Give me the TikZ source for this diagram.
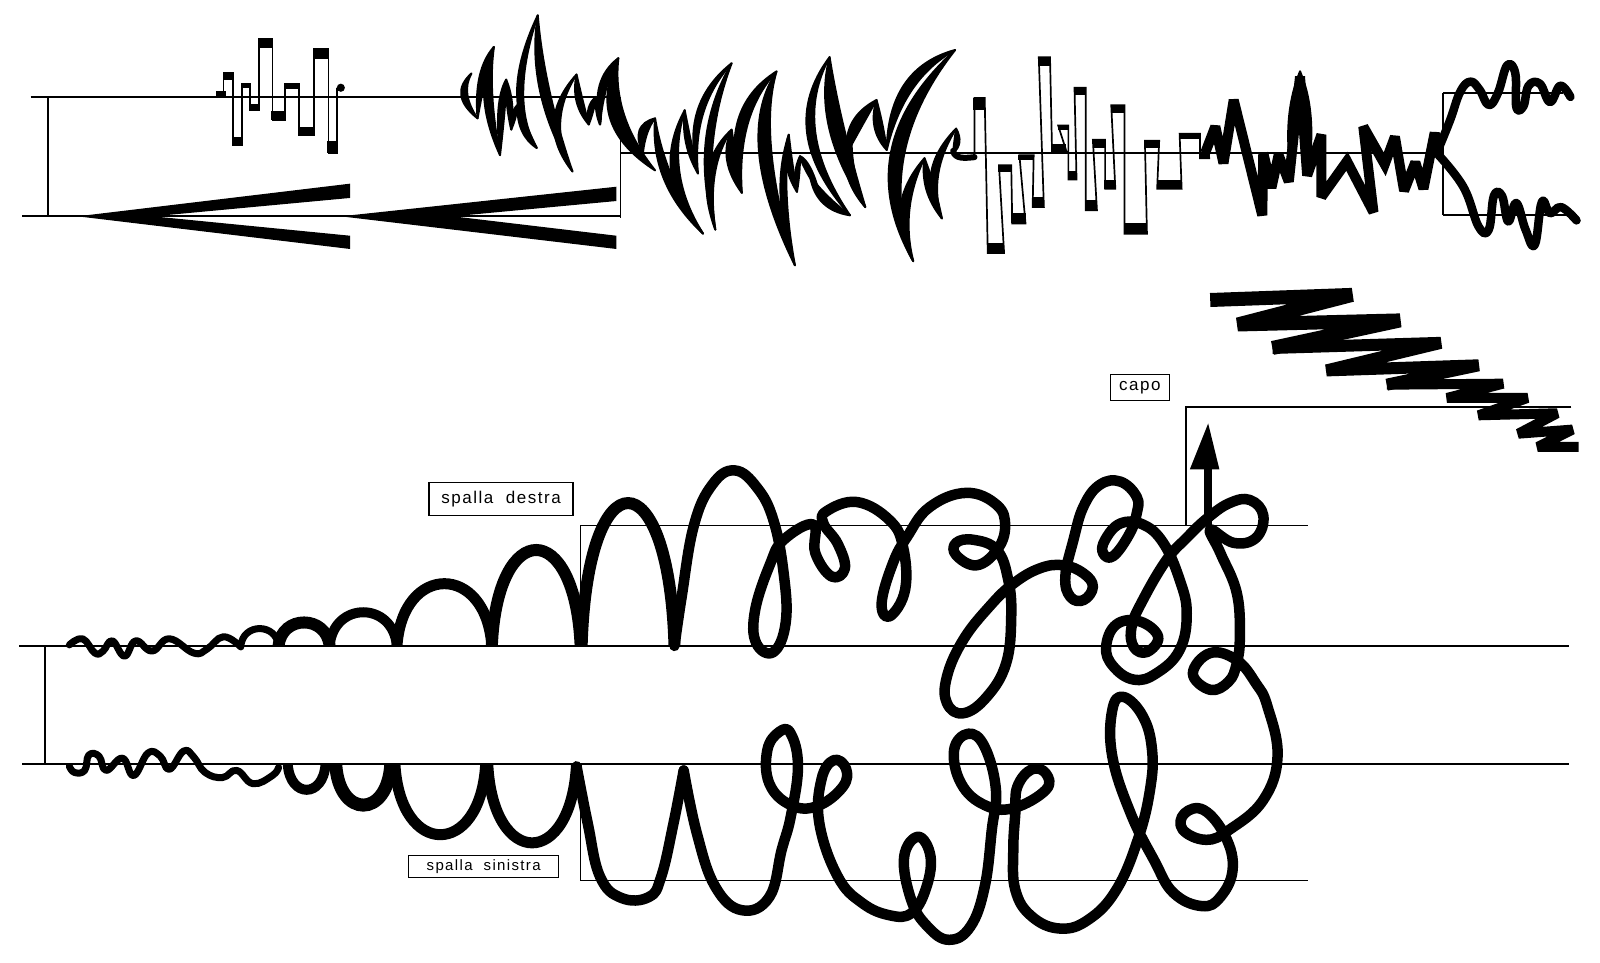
\documentclass[tikz,border=0pt]{standalone}
\usepackage{fontspec}
\setmainfont{Liberation Sans}
\newcommand\lensf[7]{%
\pgfmathsetmacro\ldx{#5-#1}\pgfmathsetmacro\ldy{#6-#2}%
\pgfmathsetmacro\lenlen{max(veclen(\ldx,\ldy),1)}%
\pgfmathsetmacro\ox{#7*\ldy/\lenlen}\pgfmathsetmacro\oy{-#7*\ldx/\lenlen}%
\filldraw[line width=2pt,line join=round] (#1,#2) .. controls ({#1+2/3*(#3+\ox-#1)},{#2+2/3*(#4+\oy-#2)}) and ({#5+2/3*(#3+\ox-#5)},{#6+2/3*(#4+\oy-#6)}) .. (#5,#6)
 .. controls ({#5+2/3*(#3-\ox-#5)},{#6+2/3*(#4-\oy-#6)}) and ({#1+2/3*(#3-\ox-#1)},{#2+2/3*(#4-\oy-#2)}) .. cycle;}
\newcommand\archup[4]{\draw[line width=#4] (#1,633) .. controls ({#1+0.06*(#2-#1)},{633+(#3-633)/0.75}) and ({#2-0.06*(#2-#1)},{633+(#3-633)/0.75}) .. (#2,633);}
\newcommand\archdn[4]{\draw[line width=#4] (#1,749) .. controls ({#1+0.06*(#2-#1)},{749+(#3-749)/0.75}) and ({#2-0.06*(#2-#1)},{749+(#3-749)/0.75}) .. (#2,749);}
\tikzset{
 staff/.style={line width=1.7pt},
 thinv/.style={line width=1.3pt},
 wave/.style={line width=7pt,line cap=round,line join=round},
 scroll/.style={line width=10.5pt,line cap=round,line join=round},
 zig/.style={line width=10pt,line join=miter,miter limit=3},
 zigf/.style={line join=bevel},
 sq/.style={line width=1.7pt,line join=miter},
 labelbox/.style={draw,line width=1.2pt,inner sep=0pt,font=\fontsize{17}{17}\selectfont\addfontfeatures{LetterSpace=9}}
}
\begin{document}
\begin{tikzpicture}[x=1.0204pt,y=-1.0204pt]
\useasboundingbox (0,0) rectangle (1568,943);
% ---- thin staff lines, top system
\draw[staff] (30,95) -- (608,95);
\draw[staff] (22,212) -- (608,212);
\draw[thinv] (47,95) -- (47,212);
\draw[thinv] (608,95) -- (608,214);
\draw[staff] (608,150) -- (1414,150);
\draw[thinv] (1414,91) -- (1414,211);
\draw[staff] (1414,91) -- (1532,91);
\draw[staff] (1414,211) -- (1545,211);
% hairpins
\fill (76,212) -- (343,180) -- (343,194) -- (150,212) -- (343,231) -- (343,244) -- cycle;
\fill (334,212) -- (604,183) -- (604,197) -- (444,212) -- (604,231) -- (604,244) -- cycle;
% square wave A
\draw[sq] (212,93) -- (219,93) -- (219,71) -- (228,71) -- (228,142) -- (237,142) -- (237,82) -- (245,82) -- (245,108) -- (254,108) -- (254,38) -- (267,38) -- (267,118) -- (279,118) -- (279,82) -- (293,82) -- (293,132) -- (308,132) -- (308,48) -- (322,48) -- (322,150) -- (330,150) -- (330,86);
\foreach \a/\b/\c/\d in {212/221/89/94, 219/228/71/78, 227/237/134/142, 236/245/82/86, 244/255/102/108, 254/267/38/47, 266/279/109/118, 279/293/82/87, 292/308/124/132, 308/322/48/58, 320/330/138/150}
  \fill (\a,\c) rectangle (\b,\d);
\fill (334,86) circle (4);
% spikes B
\lensf{462}{72}{445}{92}{468}{116}{6}
\lensf{468}{116}{470}{70}{484}{46}{6}
\lensf{484}{46}{470}{90}{490}{152}{8}
\lensf{490}{152}{490}{100}{496}{78}{6}
\lensf{496}{78}{500}{100}{501}{127}{5}
\lensf{501}{127}{503}{112}{507}{103}{4}
\lensf{507}{103}{512}{130}{526}{145}{6}
\lensf{526}{145}{493}{100}{527}{15}{6}
\lensf{527}{15}{524}{88}{561}{168}{9}
\lensf{561}{168}{529}{120}{565}{73}{6}
\lensf{565}{73}{565}{100}{577}{122}{6}
\lensf{577}{122}{578}{105}{584}{95}{5}
\lensf{584}{95}{587}{110}{588}{122}{4}
\lensf{588}{122}{585}{80}{606}{57}{7}
% spikes C
\lensf{606}{57}{586}{118}{642}{167}{14}
\lensf{630}{150}{625}{125}{642}{116}{8}
\lensf{642}{116}{644}{177}{689}{229}{8}
\lensf{689}{229}{644}{172}{671}{108}{8}
\lensf{671}{108}{672}{140}{684}{170}{5}
\lensf{684}{170}{672}{104}{717}{62}{6}
\lensf{717}{62}{681}{137}{701}{225}{7}
\lensf{701}{225}{685}{164}{717}{127}{7}
\lensf{717}{127}{712}{155}{727}{189}{9}
\lensf{727}{189}{712}{110}{761}{70}{10}
\lensf{761}{70}{730}{135}{779}{260}{12}
\lensf{779}{260}{760}{190}{773}{132}{6}
\lensf{773}{132}{770}{160}{781}{188}{6}
\lensf{781}{188}{780}{170}{784}{153}{4}
\lensf{784}{153}{790}{160}{803}{189}{5}
\lensf{794}{173}{805}{200}{833}{211}{8}
\lensf{833}{211}{767}{127}{813}{56}{8}
\lensf{813}{56}{809}{121}{848}{203}{14}
\lensf{848}{203}{824}{165}{835}{124}{8}
\lensf{830}{150}{835}{120}{859}{98}{10}
\lensf{859}{98}{858}{125}{869}{147}{8}
\lensf{869}{147}{878}{72}{936}{49}{9}
\lensf{936}{49}{844}{147}{895}{256}{13}
\lensf{895}{256}{873}{204}{906}{155}{9}
\lensf{906}{155}{909}{185}{923}{214}{8}
\lensf{923}{214}{902}{170}{937}{126}{7}
\lensf{937}{126}{940}{140}{934}{150}{5}
\draw[line width=6pt,line cap=round] (934,148) .. controls (936,156) and (945,155) .. (955,154);
% square wave D
\draw[sq] (955,154) -- (955,96) -- (965,96) -- (968,248) -- (984,248) -- (979,162) -- (991,162) -- (992,219) -- (1005,219) -- (999,152) -- (1013,152) -- (1012,203) -- (1023,203) -- (1018,56) -- (1029,56) -- (1031,148) -- (1045,148) -- (1037,123) -- (1047,123) -- (1047,176) -- (1055,176) -- (1053,86) -- (1064,86) -- (1064,206) -- (1075,206) -- (1071,137) -- (1083,137) -- (1083,185) -- (1093,185) -- (1089,103) -- (1102,103) -- (1102,229) -- (1124,229) -- (1122,138) -- (1136,138) -- (1134,185) -- (1158,185) -- (1156,131) -- (1176,131) -- (1176,155) -- (1186,155);
\foreach \a/\b/\c/\d in {954/965/96/108, 967/984/238/248, 978/991/162/169, 991/1005/209/219, 998/1013/152/157, 1011/1023/193/203, 1017/1029/56/65, 1031/1045/141/148, 1037/1047/123/127, 1047/1055/168/176, 1053/1064/86/93, 1063/1075/196/206, 1071/1083/137/145, 1082/1093/176/185, 1089/1102/103/111, 1102/1124/219/229, 1122/1136/138/145, 1134/1158/176/185, 1156/1176/131/136, 1175/1186/149/155}
  \fill (\a,\c) rectangle (\b,\d);
% zigzag E
\draw[zig] (1181,150) -- (1191,124) -- (1199,160) -- (1209,98) -- (1237,211) -- (1238,150) -- (1246,184) -- (1253,152) -- (1263,178) -- (1274,75) -- (1281,172) -- (1295,132) -- (1295,193) -- (1320,158) -- (1346,208) -- (1336,124) -- (1357,161) -- (1367,134) -- (1376,187) -- (1387,159) -- (1395,185) -- (1406,130) -- (1408,150);
\lensf{1264}{160}{1266}{110}{1274}{70}{8}
\lensf{1274}{70}{1283}{110}{1282}{170}{8}
% end waves
\draw[wave,line width=8.5pt] plot[smooth,tension=0.7] coordinates {(1408,150) (1421,118) (1431,90) (1441,80) (1450,88) (1459,103) (1468,91) (1477,64) (1485,72) (1486,105) (1493,104) (1498,84) (1509,82) (1519,100) (1529,84) (1539,95)};
\draw[wave,line width=8.5pt] plot[smooth,tension=0.7] coordinates {(1408,150) (1434,183) (1449,222) (1459,225) (1464,192) (1472,192) (1478,217) (1486,199) (1495,225) (1504,240) (1511,198) (1519,209) (1530,203) (1545,216)};
% zigzag F
\draw[zig,zigf,line width=14pt] (1186,294) -- (1325,289) -- (1213,318) -- (1372,314) -- (1247,341);
\draw[zig,zigf,line width=12pt] (1247,341) -- (1412,336) -- (1300,363) -- (1449,358) -- (1359,377);
\draw[zig,zigf,line width=10pt] (1359,377) -- (1473,376) -- (1418,390) -- (1497,390) -- (1449,407) -- (1526,405) -- (1488,425) -- (1541,421) -- (1507,438) -- (1547,438);
% lower system lines
\draw[staff] (1540,399) -- (1162,399) -- (1162,515);
\draw[staff] (569,633) -- (569,515) -- (1282,515);
\draw[staff] (19,633) -- (1538,633);
\draw[staff] (22,749) -- (1538,749);
\draw[thinv] (44,633) -- (44,749);
\draw[staff] (569,749) -- (569,863) -- (1282,863);
% labels
\node[labelbox,minimum width=144pt,minimum height=33pt] (destra) at (491,489) {spalla\ \ destra};
\node[labelbox,minimum width=150pt,minimum height=22pt,font=\fontsize{15}{15}\selectfont\addfontfeatures{LetterSpace=9}] (sinistra) at (474,849.5) {spalla\ \ sinistra};
\node[labelbox,minimum width=59pt,minimum height=26pt] (capo) at (1117,380) {capo};
% arrow
\draw[line width=8pt] (1184,515) -- (1184,455);
\fill (1184,415) -- (1195,460) -- (1166,460) -- cycle;
% small waves
\draw[wave] plot[smooth,tension=0.75] coordinates {(68,632) (81,626) (93,640) (101,638) (110,628) (122,643) (133,628) (149,638) (166,626) (190,640) (203,636) (219,624) (236,634)};
\draw[wave] plot[smooth,tension=0.75] coordinates {(68,751) (73,757) (83,755) (87,740) (97,741) (104,755) (120,743) (131,760) (145,738) (157,741) (166,754) (180,736) (190,742) (201,757) (218,762) (232,755) (248,768) (267,760) (273,752)};
% arches up
\archup{236}{273}{616}{7pt}
\archup{273}{323}{610}{12pt}
\archup{323}{389}{600}{10pt}
\archup{389}{482}{572}{11pt}
\archup{482}{569}{539}{12pt}
\archup{570}{661}{493}{12pt}
% arches down
\archdn{282}{319}{774}{10pt}
\archdn{329}{383}{789}{13pt}
\archdn{387}{476}{818}{11pt}
\archdn{478}{565}{826}{11pt}
% main upper scroll
\draw[scroll] plot[smooth,tension=0.7] coordinates {(661,633) (668,585) (680,515) (698,475) (720,461) (742,478) (758,510) (768,562) (770,610) (758,639) (741,630) (740,598) (755,552) (768,529) (797,514) (799,542) (815,565) (828,557) (821,533) (807,513) (810,501) (840,492) (872,510) (885,536) (887,578) (872,604) (864,591) (875,552) (889,526) (911,497) (947,483) (977,495) (985,516) (977,539) (957,554) (937,544) (937,532) (954,529) (977,539) (988,568) (991,604) (986,650) (967,683) (944,699) (928,689) (928,663) (944,627) (970,594) (993,572) (1019,557) (1042,554) (1062,562) (1071,575) (1062,588) (1049,585) (1044,565) (1052,529) (1062,496) (1078,475) (1098,472) (1114,487) (1114,503) (1107,523) (1091,545) (1081,542) (1083,529) (1098,513) (1120,514) (1140,532) (1156,568) (1163,601) (1156,637) (1133,660) (1111,666) (1091,653) (1084,634) (1094,612) (1117,609) (1135,624) (1124,639) (1111,634) (1109,614) (1120,588) (1143,549) (1163,527) (1183,508) (1205,493) (1225,490) (1238,505) (1231,527) (1209,532) (1186,519) (1196,542) (1212,581) (1215,624) (1212,650) (1204,668) (1186,676) (1169,660) (1186,640) (1212,647) (1231,670) (1242,692) (1252,741) (1238,784) (1205,813) (1182,823) (1159,813) (1161,797) (1180,794) (1201,820) (1208,852) (1196,879) (1178,888) (1150,875) (1131,843) (1108,797) (1090,741) (1090,696) (1101,683) (1120,702) (1129,735) (1127,774) (1115,823) (1094,872) (1067,901) (1039,910) (1011,898) (995,872) (993,833) (995,797) (997,771) (1011,754) (1025,758) (1025,774) (993,792) (965,789) (942,768) (935,735) (949,719) (965,732) (976,774) (972,813) (965,869) (951,908) (930,921) (909,908) (893,882) (886,840) (900,820) (912,840) (907,872) (893,895) (872,897) (845,885) (821,859) (803,807) (805,764) (817,745) (829,753) (826,771) (801,790) (775,789) (754,768) (752,735) (764,717) (775,719) (782,751) (775,800) (766,833) (754,879) (727,892) (701,869) (683,817) (670,755)};
\draw[scroll] plot[smooth,tension=0.7] coordinates {(670,755) (660,807) (648,859) (636,879) (609,880) (588,859) (576,807) (565,751)};
\end{tikzpicture}
\end{document}
